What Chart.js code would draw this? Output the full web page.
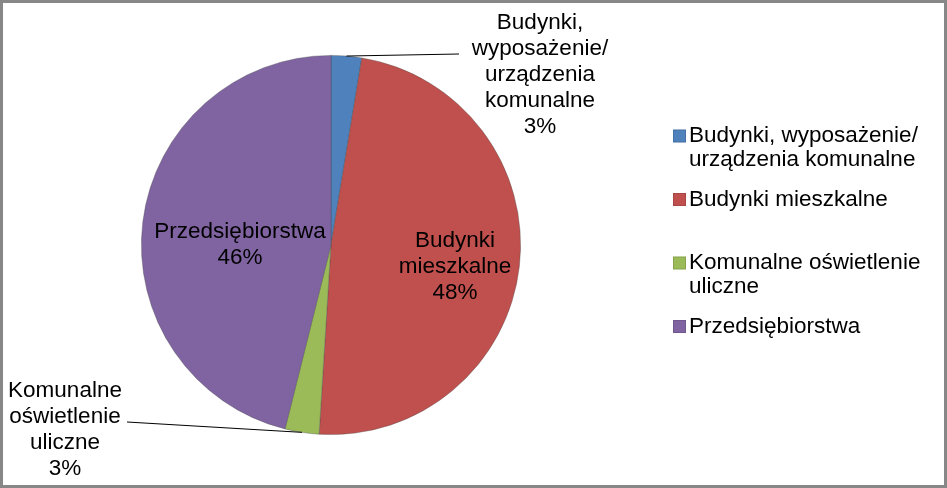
<!DOCTYPE html>
<html>
<head>
<meta charset="utf-8">
<script src="https://cdn.jsdelivr.net/npm/chart.js@4.4.1/dist/chart.umd.min.js"></script>
<style>
  html, body { margin: 0; padding: 0; background: #fff; }
  #wrap { width: 947px; height: 488px; }
</style>
</head>
<body>
<div id="wrap"><canvas id="c" width="947" height="488"></canvas></div>
<script>
// ---- data ----
const categories = [
  'Budynki, wyposażenie/ urządzenia komunalne',
  'Budynki mieszkalne',
  'Komunalne oświetlenie uliczne',
  'Przedsiębiorstwa'
];
const shares = [2.6, 48.4, 2.9, 46.1];
const sliceColors = ['#4F81BD', '#C0504D', '#9BBB59', '#8064A2'];

// ---- label layout (positions relative to pie centre, not data) ----
const labelLayout = [
  { dx: 209, dy: -170, maxW: 140, leader: { x: 459, y: 54 } },
  { dx: 124, dy: 22, maxW: 130 },
  { dx: -266, dy: 185, maxW: 140, leader: { x: 127, y: 422 } },
  { dx: -91, dy: 0, maxW: 220 }
];

const FONT = '22.5px "Liberation Sans", Arial, sans-serif';
const LINE_H = 26;

function wrap(ctx, text, maxW) {
  const words = text.split(' ');
  const lines = [];
  let cur = '';
  for (const w of words) {
    const t = cur ? cur + ' ' + w : w;
    if (cur && ctx.measureText(t).width > maxW) { lines.push(cur); cur = w; }
    else cur = t;
  }
  if (cur) lines.push(cur);
  return lines;
}

const labelPlugin = {
  id: 'labels',
  afterDatasetsDraw(chart) {
    const ctx = chart.ctx;
    const meta = chart.getDatasetMeta(0);
    const data = chart.data.datasets[0].data;
    const total = data.reduce((a, b) => a + b, 0);
    ctx.save();
    ctx.font = FONT;
    ctx.fillStyle = '#000';
    ctx.textAlign = 'center';
    ctx.textBaseline = 'middle';
    meta.data.forEach((arc, i) => {
      const L = labelLayout[i];
      const cx = arc.x, cy = arc.y;
      const lines = wrap(ctx, chart.data.labels[i], L.maxW);
      lines.push(Math.round(data[i] / total * 100) + '%');
      const bx = cx + L.dx, by = cy + L.dy;
      const y0 = by - (lines.length - 1) * LINE_H / 2;
      lines.forEach((ln, k) => ctx.fillText(ln, bx, y0 + k * LINE_H));
      if (L.leader) {
        const mid = (arc.startAngle + arc.endAngle) / 2;
        const px = cx + Math.cos(mid) * arc.outerRadius;
        const py = cy + Math.sin(mid) * arc.outerRadius;
        ctx.beginPath();
        ctx.strokeStyle = '#000';
        ctx.lineWidth = 1;
        ctx.moveTo(px, py);
        ctx.lineTo(L.leader.x, L.leader.y);
        ctx.stroke();
      }
    });
    ctx.restore();
  }
};

const legendPlugin = {
  id: 'customLegend',
  afterDraw(chart) {
    const ctx = chart.ctx;
    ctx.save();
    ctx.font = FONT;
    ctx.textAlign = 'left';
    ctx.textBaseline = 'middle';
    const colors = chart.data.datasets[0].backgroundColor;
    chart.data.labels.forEach((lab, i) => {
      const y = 136 + i * 63.5;
      ctx.fillStyle = colors[i];
      ctx.fillRect(673, y - 6.5, 13, 13);
      ctx.strokeStyle = 'rgba(0,0,0,0.12)';
      ctx.lineWidth = 1;
      ctx.strokeRect(673.5, y - 6, 12, 12);
      ctx.fillStyle = '#000';
      const lines = wrap(ctx, lab, 250);
      lines.forEach((ln, k) => ctx.fillText(ln, 689, y + k * 23.5));
    });
    ctx.restore();
  }
};

const borderPlugin = {
  id: 'frame',
  beforeDraw(chart) {
    const ctx = chart.ctx;
    ctx.save();
    ctx.fillStyle = '#fff';
    ctx.fillRect(0, 0, chart.width, chart.height);
    ctx.restore();
  },
  afterDraw(chart) {
    const ctx = chart.ctx;
    ctx.save();
    ctx.strokeStyle = '#878787';
    ctx.lineWidth = 3;
    ctx.strokeRect(1.5, 1.5, chart.width - 3, chart.height - 3);
    ctx.restore();
  }
};

new Chart(document.getElementById('c'), {
  type: 'pie',
  data: {
    labels: categories,
    datasets: [{
      data: shares,
      backgroundColor: sliceColors,
      borderColor: 'rgba(70,70,70,0.45)',
      borderWidth: 0.8
    }]
  },
  options: {
    responsive: false,
    animation: false,
    devicePixelRatio: 1,
    layout: { padding: { left: 141, right: 426, top: 55, bottom: 53 } },
    plugins: {
      legend: { display: false },
      tooltip: { enabled: false }
    }
  },
  plugins: [borderPlugin, labelPlugin, legendPlugin]
});
</script>
</body>
</html>
